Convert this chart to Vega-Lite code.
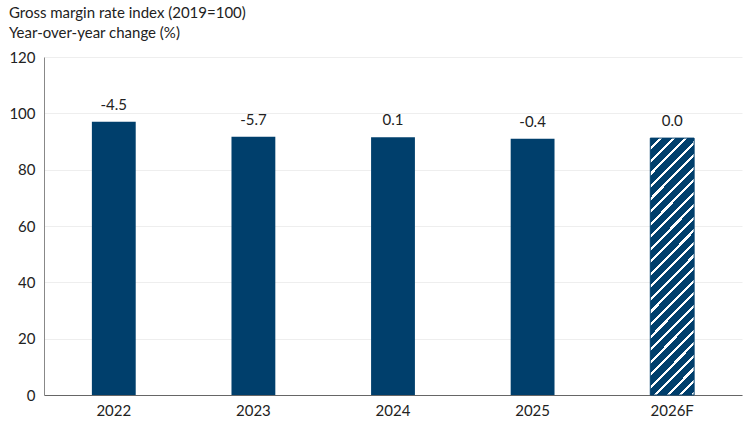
{
  "$schema": "https://vega.github.io/schema/vega-lite/v6.json",
  "width": 750,
  "height": 422,
  "autosize": {"type": "fit", "contains": "padding"},
  "padding": {"left": 8, "top": 6, "right": 8, "bottom": 4},
  "title": {
    "text": ["Gross margin rate index (2019=100)", "Year-over-year change (%)"],
    "anchor": "start",
    "frame": "bounds",
    "font": "Lato",
    "fontSize": 15,
    "fontWeight": "normal",
    "color": "#222222",
    "lineHeight": 20,
    "offset": 9
  },
  "config": {
    "view": {"stroke": null},
    "axis": {"labelFont": "Lato", "labelFontSize": 15, "labelColor": "#222222", "titleFont": "Lato"}
  },
  "data": {
    "values": [
      {"year": "2022", "index": 97.0, "chg": "-4.5", "forecast": false},
      {"year": "2023", "index": 91.7, "chg": "-5.7", "forecast": false},
      {"year": "2024", "index": 91.5, "chg": "0.1", "forecast": false},
      {"year": "2025", "index": 91.0, "chg": "-0.4", "forecast": false},
      {"year": "2026F", "index": 91.2, "chg": "0.0", "forecast": true}
    ]
  },
  "encoding": {
    "x": {
      "field": "year",
      "type": "nominal",
      "sort": null,
      "title": null,
      "scale": {"paddingInner": 0.686, "paddingOuter": 0.343},
      "axis": {"labelAngle": 0, "ticks": false, "labelPadding": 8, "domainColor": "#666666", "domainWidth": 1.2, "grid": false}
    },
    "y": {
      "field": "index",
      "type": "quantitative",
      "title": null,
      "scale": {"domain": [0, 120]},
      "axis": {"values": [0, 20, 40, 60, 80, 100, 120], "ticks": false, "labelPadding": 9, "domainColor": "#888888", "domainWidth": 1, "gridColor": "#eeeeee", "gridWidth": 1}
    }
  },
  "layer": [
    {
      "transform": [{"filter": "!datum.forecast"}],
      "mark": {"type": "bar", "fill": "#003f6c"}
    },
    {
      "transform": [{"filter": "datum.forecast"}],
      "mark": {
        "type": "bar",
        "stroke": "#003f6c",
        "strokeWidth": 1,
        "fill": {
          "gradient": "linear",
          "x1": 0, "y1": 0, "x2": 0.1964, "y2": 1.1386,
          "stops": [
            {"offset": 0, "color": "#003f6c"}, {"offset": 0.03125, "color": "#003f6c"}, {"offset": 0.03125, "color": "#ffffff"}, {"offset": 0.04167, "color": "#ffffff"},
            {"offset": 0.04167, "color": "#003f6c"}, {"offset": 0.07292, "color": "#003f6c"}, {"offset": 0.07292, "color": "#ffffff"}, {"offset": 0.08333, "color": "#ffffff"},
            {"offset": 0.08333, "color": "#003f6c"}, {"offset": 0.11458, "color": "#003f6c"}, {"offset": 0.11458, "color": "#ffffff"}, {"offset": 0.125, "color": "#ffffff"},
            {"offset": 0.125, "color": "#003f6c"}, {"offset": 0.15625, "color": "#003f6c"}, {"offset": 0.15625, "color": "#ffffff"}, {"offset": 0.16667, "color": "#ffffff"},
            {"offset": 0.16667, "color": "#003f6c"}, {"offset": 0.19792, "color": "#003f6c"}, {"offset": 0.19792, "color": "#ffffff"}, {"offset": 0.20833, "color": "#ffffff"},
            {"offset": 0.20833, "color": "#003f6c"}, {"offset": 0.23958, "color": "#003f6c"}, {"offset": 0.23958, "color": "#ffffff"}, {"offset": 0.25, "color": "#ffffff"},
            {"offset": 0.25, "color": "#003f6c"}, {"offset": 0.28125, "color": "#003f6c"}, {"offset": 0.28125, "color": "#ffffff"}, {"offset": 0.29167, "color": "#ffffff"},
            {"offset": 0.29167, "color": "#003f6c"}, {"offset": 0.32292, "color": "#003f6c"}, {"offset": 0.32292, "color": "#ffffff"}, {"offset": 0.33333, "color": "#ffffff"},
            {"offset": 0.33333, "color": "#003f6c"}, {"offset": 0.36458, "color": "#003f6c"}, {"offset": 0.36458, "color": "#ffffff"}, {"offset": 0.375, "color": "#ffffff"},
            {"offset": 0.375, "color": "#003f6c"}, {"offset": 0.40625, "color": "#003f6c"}, {"offset": 0.40625, "color": "#ffffff"}, {"offset": 0.41667, "color": "#ffffff"},
            {"offset": 0.41667, "color": "#003f6c"}, {"offset": 0.44792, "color": "#003f6c"}, {"offset": 0.44792, "color": "#ffffff"}, {"offset": 0.45833, "color": "#ffffff"},
            {"offset": 0.45833, "color": "#003f6c"}, {"offset": 0.48958, "color": "#003f6c"}, {"offset": 0.48958, "color": "#ffffff"}, {"offset": 0.5, "color": "#ffffff"},
            {"offset": 0.5, "color": "#003f6c"}, {"offset": 0.53125, "color": "#003f6c"}, {"offset": 0.53125, "color": "#ffffff"}, {"offset": 0.54167, "color": "#ffffff"},
            {"offset": 0.54167, "color": "#003f6c"}, {"offset": 0.57292, "color": "#003f6c"}, {"offset": 0.57292, "color": "#ffffff"}, {"offset": 0.58333, "color": "#ffffff"},
            {"offset": 0.58333, "color": "#003f6c"}, {"offset": 0.61458, "color": "#003f6c"}, {"offset": 0.61458, "color": "#ffffff"}, {"offset": 0.625, "color": "#ffffff"},
            {"offset": 0.625, "color": "#003f6c"}, {"offset": 0.65625, "color": "#003f6c"}, {"offset": 0.65625, "color": "#ffffff"}, {"offset": 0.66667, "color": "#ffffff"},
            {"offset": 0.66667, "color": "#003f6c"}, {"offset": 0.69792, "color": "#003f6c"}, {"offset": 0.69792, "color": "#ffffff"}, {"offset": 0.70833, "color": "#ffffff"},
            {"offset": 0.70833, "color": "#003f6c"}, {"offset": 0.73958, "color": "#003f6c"}, {"offset": 0.73958, "color": "#ffffff"}, {"offset": 0.75, "color": "#ffffff"},
            {"offset": 0.75, "color": "#003f6c"}, {"offset": 0.78125, "color": "#003f6c"}, {"offset": 0.78125, "color": "#ffffff"}, {"offset": 0.79167, "color": "#ffffff"},
            {"offset": 0.79167, "color": "#003f6c"}, {"offset": 0.82292, "color": "#003f6c"}, {"offset": 0.82292, "color": "#ffffff"}, {"offset": 0.83333, "color": "#ffffff"},
            {"offset": 0.83333, "color": "#003f6c"}, {"offset": 0.86458, "color": "#003f6c"}, {"offset": 0.86458, "color": "#ffffff"}, {"offset": 0.875, "color": "#ffffff"},
            {"offset": 0.875, "color": "#003f6c"}, {"offset": 0.90625, "color": "#003f6c"}, {"offset": 0.90625, "color": "#ffffff"}, {"offset": 0.91667, "color": "#ffffff"},
            {"offset": 0.91667, "color": "#003f6c"}, {"offset": 0.94792, "color": "#003f6c"}, {"offset": 0.94792, "color": "#ffffff"}, {"offset": 0.95833, "color": "#ffffff"},
            {"offset": 0.95833, "color": "#003f6c"}, {"offset": 0.98958, "color": "#003f6c"}, {"offset": 0.98958, "color": "#ffffff"}, {"offset": 1, "color": "#ffffff"}
          ]
        }
      }
    },
    {
      "mark": {"type": "text", "baseline": "bottom", "dy": -9, "font": "Lato", "fontSize": 15, "color": "#222222"},
      "encoding": {"text": {"field": "chg", "type": "nominal"}}
    }
  ]
}
